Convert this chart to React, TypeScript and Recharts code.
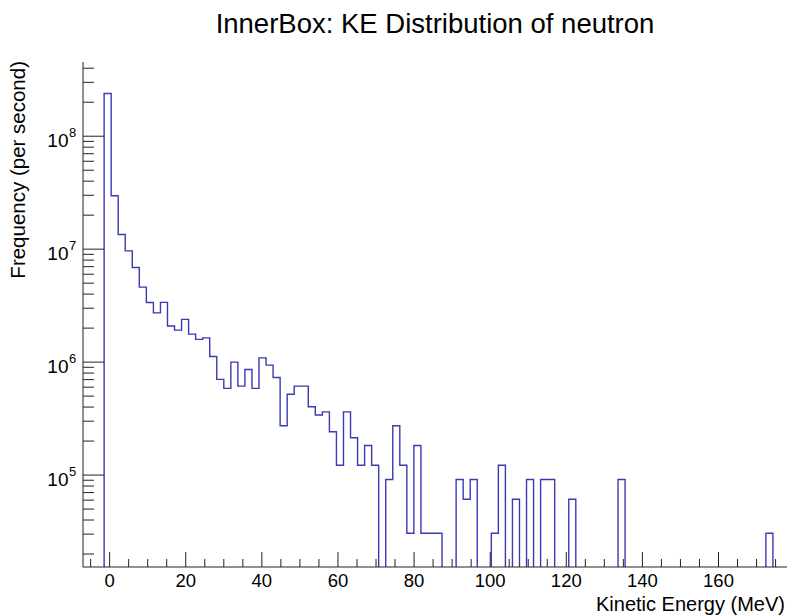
import React from 'react'
import { LineChart, Line, XAxis, YAxis } from 'recharts'

// histogram: 100 bins from -7 to 178 MeV
const BIN_LOW = -7
const BIN_WIDTH = 1.85
const RATE = [
  0, 0, 0, 2.39e8, 2.97e7, 1.35e7, 9.66e6, 6.89e6, 4.61e6, 3.37e6,
  2.73e6, 3.38e6, 2.09e6, 1.92e6, 2.39e6, 1.77e6, 1.59e6, 1.64e6, 1.12e6, 7.04e5,
  5.85e5, 1.0e6, 6.13e5, 8.6e5, 5.85e5, 1.09e6, 9.4e5, 7.3e5, 2.73e5, 5.2e5,
  6.13e5, 6.13e5, 4.03e5, 3.4e5, 3.63e5, 2.42e5, 1.22e5, 3.63e5, 2.14e5, 1.22e5,
  1.83e5, 1.22e5, 0, 9.15e4, 2.73e5, 1.22e5, 3.05e4, 1.83e5, 3.05e4, 3.05e4,
  3.05e4, 0, 0, 9.15e4, 6.1e4, 9.15e4, 0, 0, 3.05e4, 1.22e5,
  0, 6.1e4, 0, 9.15e4, 0, 9.15e4, 9.15e4, 0, 0, 6.1e4,
  0, 0, 0, 0, 0, 0, 9.15e4, 0, 0, 0,
  0, 0, 0, 0, 0, 0, 0, 0, 0, 0,
  0, 0, 0, 0, 0, 0, 0, 3.05e4, 0, 0,
]

const X_DOMAIN = [-7, 178]
const X_TICKS = [
  -5, 0, 5, 10, 15, 20, 25, 30, 35, 40, 45, 50, 55, 60, 65, 70, 75, 80, 85, 90,
  95, 100, 105, 110, 115, 120, 125, 130, 135, 140, 145, 150, 155, 160, 165, 170, 175,
]
const X_LABELS = [0, 20, 40, 60, 80, 100, 120, 140, 160]

const Y_MIN = 1.535e4
const Y_MAX = 4.54e8
const FLOOR = 1e4 // empty bins go below the frame
const Y_TICKS = [
  2e4, 3e4, 4e4, 5e4, 6e4, 7e4, 8e4, 9e4,
  1e5, 2e5, 3e5, 4e5, 5e5, 6e5, 7e5, 8e5, 9e5,
  1e6, 2e6, 3e6, 4e6, 5e6, 6e6, 7e6, 8e6, 9e6,
  1e7, 2e7, 3e7, 4e7, 5e7, 6e7, 7e7, 8e7, 9e7,
  1e8, 2e8, 3e8, 4e8,
]
const Y_DECADES = [5, 6, 7, 8]

const FONT = '"Liberation Sans", Arial, Helvetica, sans-serif'
const HIST_COLOR = '#3a3ab4'
const AXIS_COLOR = '#222'

const table: { x: number; y: number }[] = RATE.map((v, i) => ({
  x: BIN_LOW + i * BIN_WIDTH,
  y: v > 0 ? v : FLOOR,
}))
table.push({ x: BIN_LOW + RATE.length * BIN_WIDTH, y: FLOOR })

const XTick = ({ x, y, payload }: any) => {
  const major = X_LABELS.includes(payload.value)
  return (
    <g>
      <line x1={x} y1={y} x2={x} y2={y - (major ? 15 : 8)} stroke={AXIS_COLOR} />
      {major && (
        <text x={x} y={y + 20} textAnchor="middle" fontSize={18.5} fontFamily={FONT} fill="#000">
          {payload.value}
        </text>
      )}
    </g>
  )
}

const YTick = ({ x, y, payload }: any) => {
  const exp = Math.round(Math.log10(payload.value))
  const major = Math.abs(Math.log10(payload.value) - exp) < 1e-9 && Y_DECADES.includes(exp)
  return (
    <g>
      <line x1={x} y1={y} x2={x + (major ? 21 : 11)} y2={y} stroke={AXIS_COLOR} />
      {major && (
        <text y={y + 11} fontFamily={FONT} fill="#000">
          <tspan x={x - 14.5} textAnchor="end" fontSize={19}>10</tspan>
          <tspan x={x - 14} dy={-10} textAnchor="start" fontSize={13}>{exp}</tspan>
        </text>
      )}
    </g>
  )
}

export default function App() {
  return (
    <div style={{ position: 'absolute', left: 0, top: 0, width: 789, height: 616, background: '#fff' }}>
      <LineChart width={789} height={616} data={table} margin={{ top: 62, right: 2, bottom: 0, left: 0 }}>
        <XAxis
          dataKey="x" type="number" domain={X_DOMAIN} allowDataOverflow
          ticks={X_TICKS} interval={0} tick={(p: any) => <XTick {...p} />}
          tickLine={false} tickSize={0} tickMargin={0} height={49}
          axisLine={{ stroke: AXIS_COLOR }}
        />
        <XAxis
          xAxisId="top" orientation="top" type="number" domain={X_DOMAIN}
          tick={false} tickLine={false} height={0} axisLine={{ stroke: AXIS_COLOR }}
        />
        <YAxis
          type="number" scale="log" domain={[Y_MIN, Y_MAX]} allowDataOverflow
          ticks={Y_TICKS} interval={0} tick={(p: any) => <YTick {...p} />}
          tickLine={false} tickSize={0} tickMargin={0} width={83}
          axisLine={{ stroke: AXIS_COLOR }}
        />
        <YAxis
          yAxisId="right" orientation="right" type="number" scale="log" domain={[Y_MIN, Y_MAX]}
          tick={false} tickLine={false} width={0} axisLine={{ stroke: AXIS_COLOR }}
        />
        <Line
          type="stepAfter" dataKey="y" stroke={HIST_COLOR} strokeWidth={1.4}
          dot={false} activeDot={false} isAnimationActive={false}
        />
      </LineChart>
      <svg width={789} height={616} style={{ position: 'absolute', left: 0, top: 0, pointerEvents: 'none' }}>
        <text x={435} y={33} textAnchor="middle" fontSize={27.5} fontFamily={FONT} fill="#000">
          InnerBox: KE Distribution of neutron
        </text>
        <text x={785} y={611} textAnchor="end" fontSize={20} fontFamily={FONT} fill="#000">
          Kinetic Energy (MeV)
        </text>
        <text
          x={0} y={0} textAnchor="end" fontSize={20.5} fontFamily={FONT} fill="#000"
          transform="translate(25, 61) rotate(-90)"
        >
          Frequency (per second)
        </text>
      </svg>
    </div>
  )
}
